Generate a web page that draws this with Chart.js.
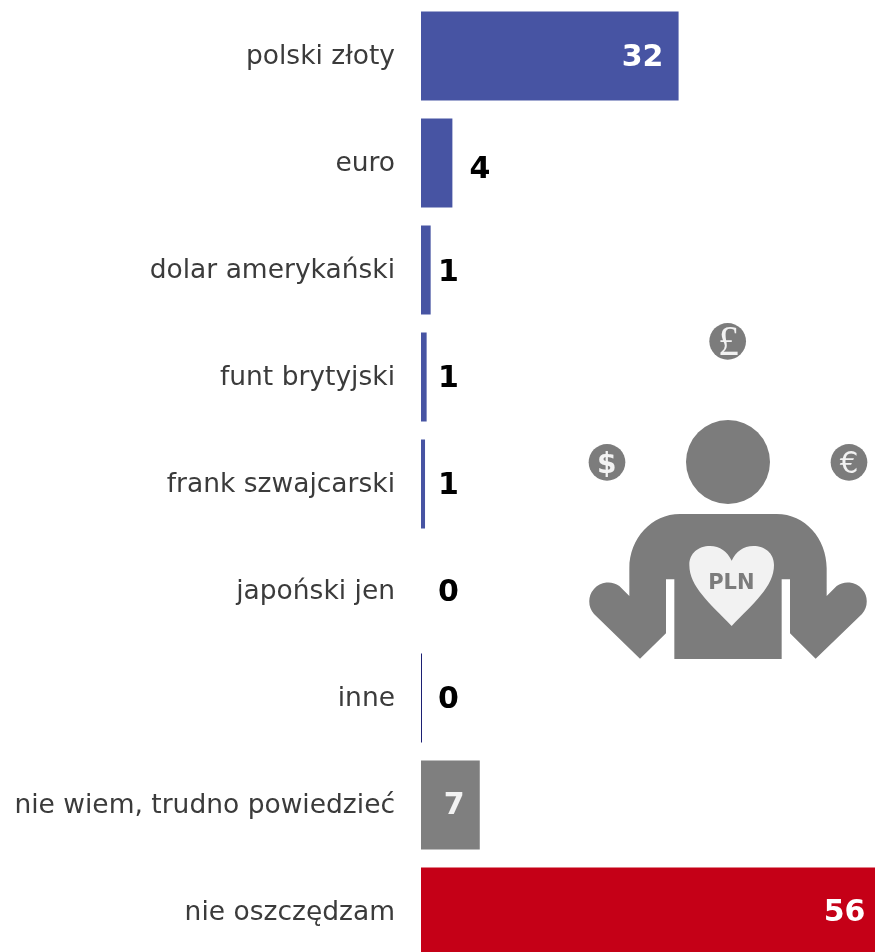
<!DOCTYPE html>
<html>
<head>
<meta charset="utf-8">
<title>Waluty oszczędzania</title>
<script src="https://cdn.jsdelivr.net/npm/chart.js@4"></script>
<style>
  html, body { margin: 0; padding: 0; background: #fff; overflow: hidden; }
  #wrap { position: relative; width: 875px; height: 952px; overflow: hidden; }
  #myChart { position: absolute; left: 0; top: 0; }
  #icon { position: absolute; left: 570px; top: 310px; }
</style>
</head>
<body>
<div id="wrap">
  <canvas id="myChart" width="875" height="966"></canvas>
  <svg id="icon" width="305" height="360" viewBox="0 0 915 1080">
    <circle cx="474" cy="456" r="126" fill="#7c7c7c"/>
    <path fill="#7c7c7c" d="M330 612 L620 612 C705 612 770 685 770 775 L770 858 L800 828 A57 57 0 0 1 876 912 L737 1046 L660 970 L660 808 L635 808 L635 1047 L313 1047 L313 808 L288 808 L288 970 L210 1046 L72 912 A57 57 0 0 1 148 828 L178 858 L178 775 C178 685 245 612 330 612 Z"/>
    <path fill="#f2f2f2" d="M485 948 C420 880 358 830 358 765 C358 730 385 708 420 708 C450 708 472 725 485 752 C498 725 520 708 550 708 C585 708 612 730 612 765 C612 830 550 880 485 948 Z"/>
    <text x="484" y="836" text-anchor="middle" font-family="DejaVu Sans" font-weight="bold" font-size="63" fill="#7c7c7c">PLN</text>
    <circle cx="473" cy="94" r="55" fill="#7c7c7c"/>
    <text x="475" y="136" text-anchor="middle" font-family="Liberation Serif" font-size="125" fill="#f2f2f2">£</text>
    <circle cx="111" cy="457" r="55" fill="#7c7c7c"/>
    <text x="110" y="488" text-anchor="middle" font-family="DejaVu Sans" font-weight="bold" font-size="84" fill="#f2f2f2">$</text>
    <circle cx="837" cy="457" r="55" fill="#7c7c7c"/>
    <text x="837" y="489" text-anchor="middle" font-family="DejaVu Sans" font-size="88" fill="#f2f2f2">€</text>
  </svg>
</div>
<script>
var categories = ['polski złoty', 'euro', 'dolar amerykański', 'funt brytyjski', 'frank szwajcarski', 'japoński jen', 'inne', 'nie wiem, trudno powiedzieć', 'nie oszczędzam'];
var barValues = [32, 3.9, 1.2, 0.7, 0.5, 0, 0.12, 7.3, 56.4];
var shownValues = ['32', '4', '1', '1', '1', '0', '0', '7', '56'];

var BLUE = '#4754a3';
var barColors = [BLUE, BLUE, BLUE, BLUE, BLUE, BLUE, '#14186e', '#7f7f7f', '#c50017'];
var labelColors = ['#fff', '#000', '#000', '#000', '#000', '#000', '#000', '#f2f2f2', '#fff'];

// labels are not placed by one rule in the original, so nudge each one from the bar end / base
var labelNudge = [
  { from: 'end', dx: -36, dy: 2 },
  { from: 'end', dx: 27.5, dy: 7 },
  { from: 'base', dx: 27.5, dy: 3 },
  { from: 'base', dx: 27.5, dy: 2 },
  { from: 'base', dx: 27.5, dy: 2 },
  { from: 'base', dx: 27.5, dy: 2 },
  { from: 'base', dx: 27.5, dy: 2 },
  { from: 'end', dx: -25.5, dy: 1 },
  { from: 'end', dx: -30.5, dy: 1 }
];

var valueLabels = {
  id: 'valueLabels',
  afterDatasetsDraw: function (chart) {
    var ctx = chart.ctx;
    var bars = chart.getDatasetMeta(0).data;
    var zero = chart.scales.x.getPixelForValue(0);
    ctx.save();
    ctx.font = 'bold 30px "DejaVu Sans"';
    ctx.textAlign = 'center';
    ctx.textBaseline = 'middle';
    bars.forEach(function (bar, i) {
      var n = labelNudge[i];
      var x = (n.from === 'end' ? Math.min(bar.x, 875) : zero) + n.dx;
      ctx.fillStyle = labelColors[i];
      ctx.fillText(shownValues[i], x, bar.y + n.dy);
    });
    ctx.restore();
  }
};

new Chart(document.getElementById('myChart').getContext('2d'), {
  type: 'bar',
  data: {
    labels: categories,
    datasets: [{
      data: barValues,
      backgroundColor: barColors,
      borderWidth: 0,
      barPercentage: 0.83,
      categoryPercentage: 1
    }]
  },
  plugins: [valueLabels],
  options: {
    indexAxis: 'y',
    responsive: false,
    animation: false,
    layout: { autoPadding: false, padding: { top: 2.5, bottom: 0.5, left: 0, right: 0 } },
    plugins: { legend: { display: false }, tooltip: { enabled: false } },
    scales: {
      x: { display: false, min: 0, max: 56.4 },
      y: {
        afterFit: function (scale) {
          // fixed axis width, and no extra room for half a tick label above and below
          scale.width = 421;
          scale.paddingTop = 0;
          scale.paddingBottom = 0;
        },
        grid: { display: false },
        border: { display: false },
        ticks: {
          autoSkip: false,
          padding: 18,
          labelOffset: 1,
          color: '#3b3b3b',
          font: { family: 'DejaVu Sans', size: 26.5 }
        }
      }
    }
  }
});
</script>
</body>
</html>
